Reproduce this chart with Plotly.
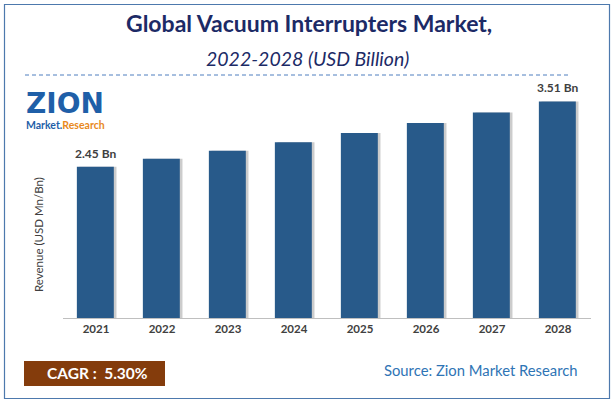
import plotly.graph_objects as go

years = ["2021", "2022", "2023", "2024", "2025", "2026", "2027", "2028"]
revenue = [2.45, 2.58, 2.71, 2.85, 3.00, 3.16, 3.33, 3.51]
labels = ["2.45 Bn", "", "", "", "", "", "", "3.51 Bn"]

title = "Global Vacuum Interrupters Market,"
subtitle = "2022-2028 (USD Billion)"
cagr_text = "CAGR :  5.30%"
source_text = "Source: Zion Market Research"
y_title = "Revenue (USD Mn/Bn)"

FONT = "Lato"
W, H = 615, 404
L, R, T, B = 63, 24, 85, 86

fig = go.Figure()
fig.add_trace(go.Bar(
    x=years, y=revenue, width=0.56, offset=-0.25,
    marker=dict(color="rgba(110,110,110,0.35)", line=dict(width=0)),
    hoverinfo="skip", showlegend=False,
))
fig.add_trace(go.Bar(
    x=years, y=revenue, width=0.56, offset=-0.29,
    marker=dict(color="#285a8a", line=dict(width=0)),
    showlegend=False,
))

anns = []
for i, (v, lab) in enumerate(zip(revenue, labels)):
    if lab:
        anns.append(dict(x=i, y=v, xref="x", yref="y", text=f"<b>{lab}</b>", showarrow=False,
                         yanchor="bottom", yshift=4, xshift=-1,
                         font=dict(family=FONT, size=12, color="#404040")))

def px_to_paper_x(px):
    return (px - L) / (W - L - R)

def py_to_paper_y(py):
    return (H - B - py) / (H - T - B)

anns += [
    dict(x=px_to_paper_x(309), y=py_to_paper_y(23), xref="paper", yref="paper",
         text=f"<b>{title}</b>", showarrow=False, xanchor="center", yanchor="middle",
         font=dict(family=FONT, size=23, color="#1c2a66")),
    dict(x=px_to_paper_x(307), y=py_to_paper_y(58), xref="paper", yref="paper",
         text=f"<i>{subtitle}</i>", showarrow=False, xanchor="center", yanchor="middle",
         font=dict(family=FONT, size=19.5, color="#1c2a66")),
    dict(x=px_to_paper_x(38), y=py_to_paper_y(235), xref="paper", yref="paper",
         text=y_title, showarrow=False, textangle=-90, xanchor="center", yanchor="middle",
         font=dict(family=FONT, size=11.5, color="#404040")),
    dict(x=px_to_paper_x(97), y=py_to_paper_y(373), xref="paper", yref="paper",
         text=f"<b>{cagr_text}</b>", showarrow=False, xanchor="center", yanchor="middle",
         font=dict(family=FONT, size=15.5, color="white")),
    dict(x=px_to_paper_x(580), y=py_to_paper_y(370), xref="paper", yref="paper",
         text=source_text, showarrow=False, xanchor="right", yanchor="middle",
         font=dict(family=FONT, size=14.8, color="#2e74b5")),
    # logo
    dict(x=px_to_paper_x(65), y=py_to_paper_y(103), xref="paper", yref="paper",
         text="<b>ZION</b>", showarrow=False, xanchor="center", yanchor="middle",
         font=dict(family="DejaVu Sans", size=28, color="#1f5fa8")),
    dict(x=px_to_paper_x(65), y=py_to_paper_y(125), xref="paper", yref="paper",
         text="<b>Market.<span style='color:#e8891c'>Research</span></b>", showarrow=False,
         xanchor="center", yanchor="middle",
         font=dict(family=FONT, size=10.5, color="#1f5fa8")),
]

shapes = [
    dict(type="rect", xref="paper", yref="paper",
         x0=px_to_paper_x(4.5), x1=px_to_paper_x(609.5),
         y0=py_to_paper_y(398.5), y1=py_to_paper_y(4.5),
         line=dict(color="#4d79ad", width=1.2), fillcolor="rgba(0,0,0,0)", layer="below"),
    dict(type="line", xref="paper", yref="paper",
         x0=px_to_paper_x(25), x1=px_to_paper_x(568),
         y0=py_to_paper_y(75), y1=py_to_paper_y(75),
         line=dict(color="#4f7fbf", width=1, dash="4px,3px")),
    dict(type="rect", xref="paper", yref="paper",
         x0=px_to_paper_x(24), x1=px_to_paper_x(165),
         y0=py_to_paper_y(386), y1=py_to_paper_y(361),
         line=dict(width=0), fillcolor="#843c0c", layer="below"),
]

fig.update_layout(
    width=W, height=H,
    margin=dict(l=L, r=R, t=T, b=B, pad=0),
    paper_bgcolor="white", plot_bgcolor="white",
    barmode="overlay", bargap=0.44,
    annotations=anns, shapes=shapes,
    xaxis=dict(type="category", range=[-0.5, 7.5], showgrid=False, zeroline=False,
               showline=True, linecolor="#bfbfbf", linewidth=1, ticks="",
               tickfont=dict(family=FONT, size=11.5, color="#404040"),
               tickprefix="<b>", ticksuffix="</b>", fixedrange=True),
    yaxis=dict(range=[0, 3.776], showgrid=False, zeroline=False, showticklabels=False,
               showline=False, ticks="", fixedrange=True),
    font=dict(family=FONT),
)

fig.write_html("out.html", config={"displayModeBar": False})
